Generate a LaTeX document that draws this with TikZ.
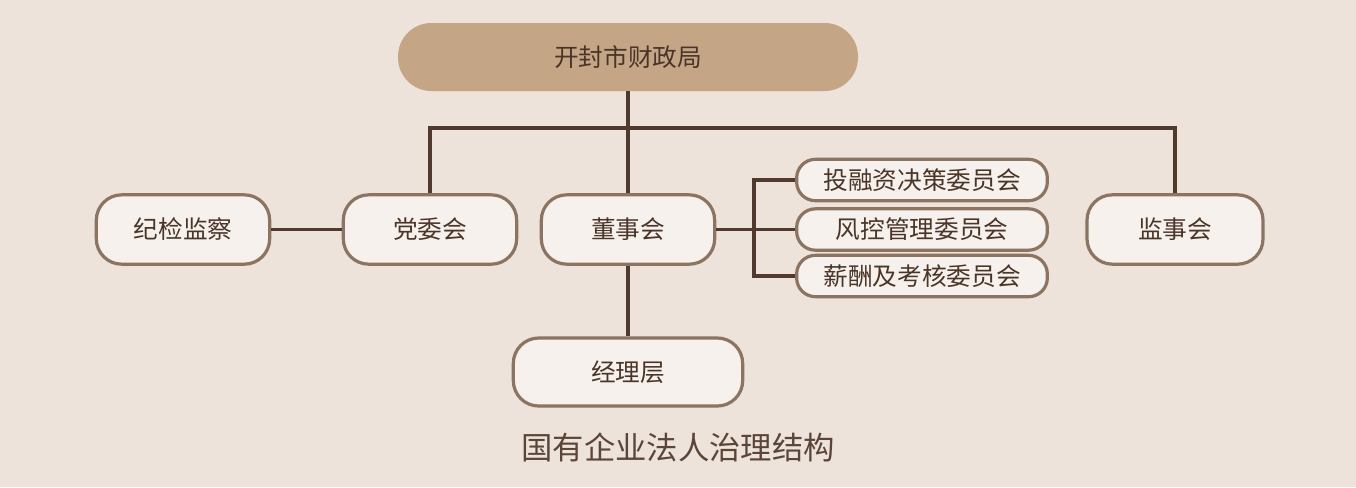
\documentclass[tikz,border=0pt]{standalone}
\usepackage{fontspec}
\newfontfamily\cjk{Noto Sans CJK SC}
\definecolor{bg}{HTML}{EDE3DB}
\definecolor{topfill}{HTML}{C4A687}
\definecolor{boxfill}{HTML}{F6F1EC}
\definecolor{boxline}{HTML}{8C7462}
\definecolor{conn}{HTML}{4F3A2D}
\definecolor{txt}{HTML}{4A3528}
\definecolor{titletxt}{HTML}{5A4538}
\begin{document}
\begin{tikzpicture}[x=0.75pt,y=-0.75pt,
  orgbox/.style={draw=boxline,line width=2.4pt,fill=boxfill,rounded corners=19pt,
    inner sep=0pt,text=txt,font=\cjk\fontsize{18.5}{20}\selectfont},
  conline/.style={draw=conn,line width=2.4pt},
]
\fill[bg] (0,0) rectangle (1356,487);
\useasboundingbox (0,0) rectangle (1356,487);

\node[fill=topfill,rounded corners=25pt,minimum width=345pt,minimum height=51pt,inner sep=0pt,
  text=txt,font=\cjk\fontsize{18.5}{20}\selectfont] (top) at (628,57) {开封市财政局};

\node[orgbox,minimum width=130pt,minimum height=52pt] (jj) at (183,229.5) {纪检监察};
\node[orgbox,minimum width=130pt,minimum height=52pt] (dw) at (430,229.5) {党委会};
\node[orgbox,minimum width=130pt,minimum height=52pt] (ds) at (628,229.5) {董事会};
\node[orgbox,minimum width=132pt,minimum height=52pt] (js) at (1175,229.5) {监事会};
\node[orgbox,minimum width=172pt,minimum height=51pt] (jl) at (628,372) {经理层};

\node[orgbox,rounded corners=14pt,minimum width=188pt,minimum height=31pt] (c1) at (922,180) {投融资决策委员会};
\node[orgbox,rounded corners=14pt,minimum width=188pt,minimum height=31pt] (c2) at (922,229.5) {风控管理委员会};
\node[orgbox,rounded corners=14pt,minimum width=188pt,minimum height=31pt] (c3) at (922,276) {薪酬及考核委员会};

\node[text=titletxt,font=\cjk\fontsize{23.5}{26}\selectfont] (title) at (678,447) {国有企业法人治理结构};

\coordinate (bus) at (628,128);
\coordinate (brk) at (754,229.5);

\draw[conline] (top.south) -- (bus);
\draw[conline] (dw.north) |- (bus) -| (js.north);
\draw[conline] (bus) -- (ds.north);
\draw[conline] (jj.east) -- (dw.west);
\draw[conline] (ds.south) -- (jl.north);
\draw[conline] (ds.east) -- (brk);
\draw[conline] (c1.west) -| (brk) |- (c3.west);
\draw[conline] (brk) -- (c2.west);
\end{tikzpicture}
\end{document}
